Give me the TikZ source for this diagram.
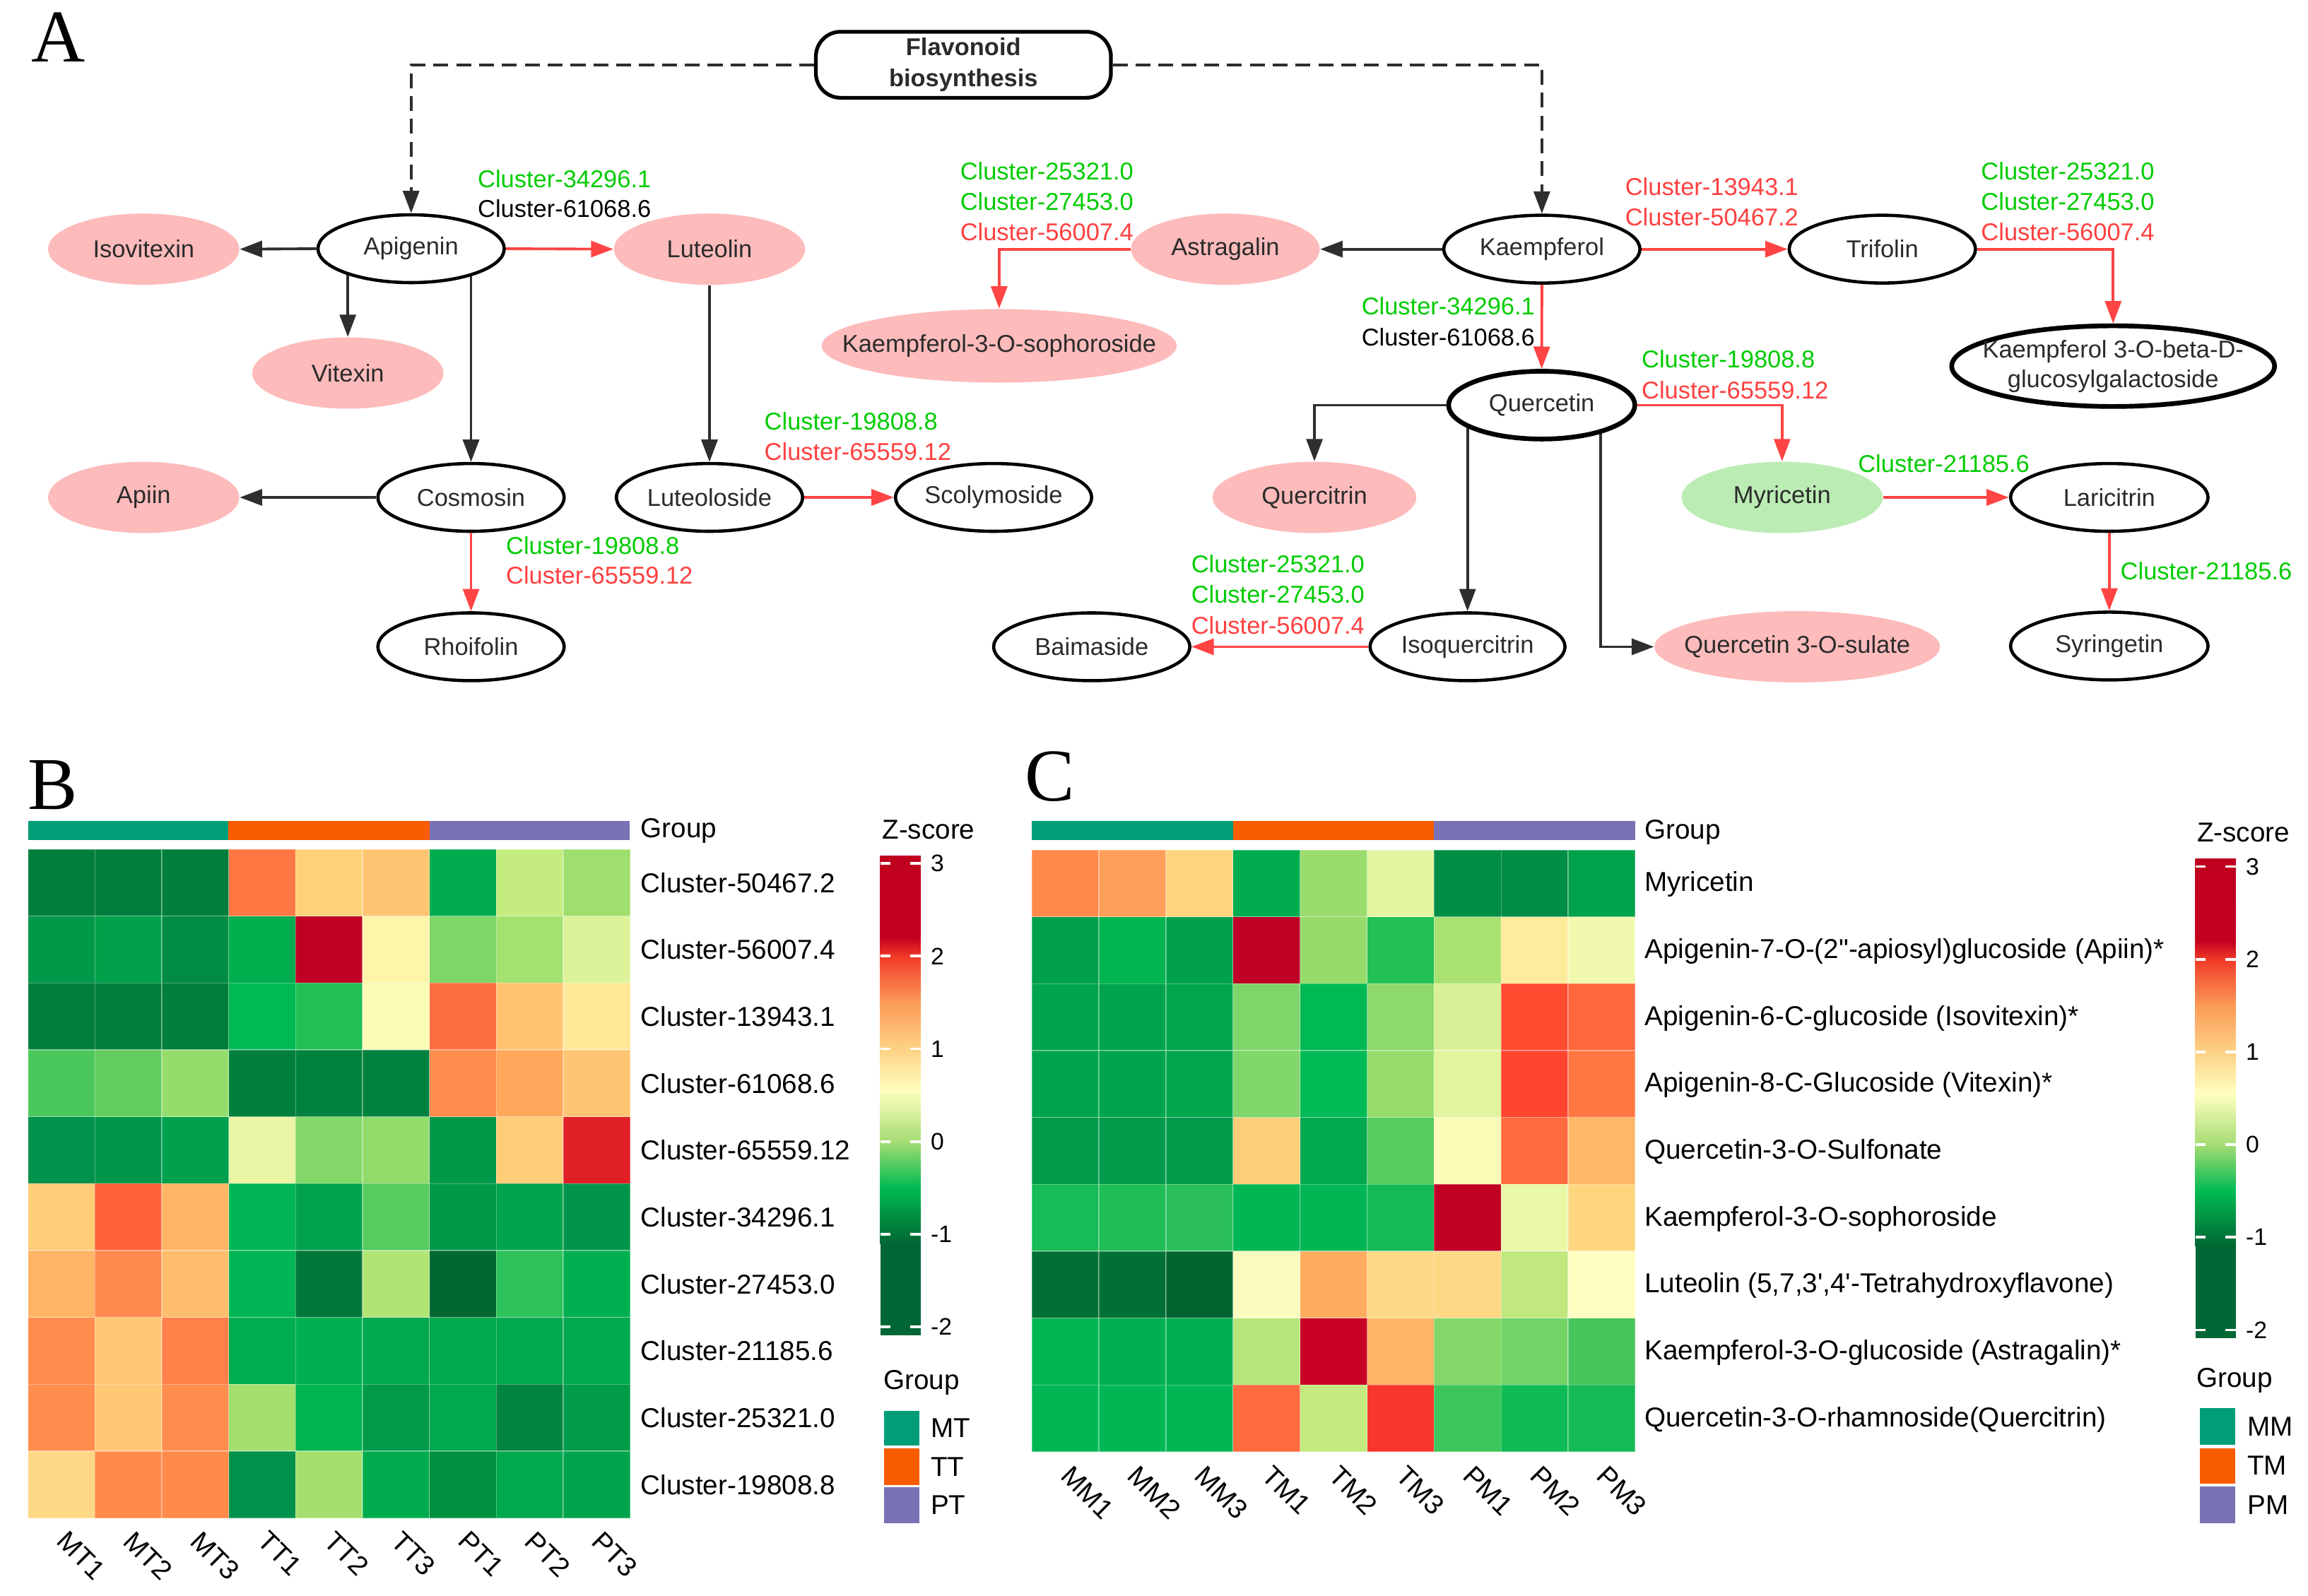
\documentclass[tikz,border=0pt]{standalone}
\usepackage{fontspec}
\setmainfont{Liberation Sans}
\newfontfamily\panelfont{Liberation Serif}
\usetikzlibrary{shapes.geometric,arrows.meta,calc}
\pgfdeclarelayer{bg}
\pgfdeclarelayer{paper}
\pgfsetlayers{paper,bg,main}
\definecolor{pinkn}{HTML}{FDBBBB}
\definecolor{greenn}{HTML}{BBECB4}
\definecolor{labg}{HTML}{00CC00}
\definecolor{labr}{HTML}{FF4040}
\definecolor{edgek}{HTML}{2E2E2E}
\definecolor{edger}{HTML}{FF4444}
\definecolor{txt}{HTML}{2B2B2B}
\definecolor{tealc}{HTML}{009E78}
\definecolor{orangec}{HTML}{FA5C00}
\definecolor{purplec}{HTML}{7872B6}
\definecolor{zs0}{HTML}{006633}
\definecolor{zs1}{HTML}{00BA52}
\definecolor{zs2}{HTML}{A5DC73}
\definecolor{zs3}{HTML}{FFFFBF}
\definecolor{zs4}{HTML}{FDD284}
\definecolor{zs5}{HTML}{FC9B58}
\definecolor{zs6}{HTML}{F13A27}
\definecolor{zs7}{HTML}{C3001F}
\definecolor{zs8}{HTML}{C0001F}
\newcommand\hmrow[5]{%
  \foreach \c [count=\i from 0] in {#5}{%
    \edef\tmpdef{\noexpand\definecolor{cellc}{HTML}{\c}}\tmpdef
    \path[fill=cellc, draw=white, draw opacity=0.3, line width=0.4pt] ({#1+\i*#3},#2) rectangle ++(#3,#4);
  }}
\newcommand\zbar[2]{%
  \begin{scope}[shift={(#1,#2)}]
    \fill[zs0] (0,131.67) rectangle (27.5,69.3);
    \shade[bottom color=zs0, top color=zs1] (0,69.5) rectangle (27.5,31.5);
    \shade[bottom color=zs1, top color=zs2] (0,31.7) rectangle (27.5,0);
    \shade[bottom color=zs2, top color=zs3] (0,0.2) rectangle (27.5,-34.65);
    \shade[bottom color=zs3, top color=zs4] (0,-34.45) rectangle (27.5,-63);
    \shade[bottom color=zs4, top color=zs5] (0,-62.8) rectangle (27.5,-94.5);
    \shade[bottom color=zs5, top color=zs6] (0,-94.3) rectangle (27.5,-126);
    \shade[bottom color=zs6, top color=zs7] (0,-125.8) rectangle (27.5,-138.6);
    \shade[bottom color=zs7, top color=zs8] (0,-138.4) rectangle (27.5,-194.04);
    \foreach \v/\yy in {3/-189,2/-126,1/-63,0/0,-1/63,-2/126}{%
      \draw[white, line width=1.1pt] (0,\yy) -- (7,\yy) (20.5,\yy) -- (27.5,\yy);
      \node[tlab] (tk\v) at (34,\yy) {\v};
    }
  \end{scope}}
\begin{document}
\begin{tikzpicture}[x=0.020829cm,y=-0.020829cm,
  nfont/.style={font=\fontsize{9.8}{12}\selectfont},
  wn/.style={ellipse, draw=black, line width=1.3pt, fill=white, inner sep=0pt,
    minimum width=75pt, minimum height=27.3pt, nfont, text=txt},
  wnt/.style={wn, line width=1.9pt},
  pn/.style={ellipse, fill=pinkn, inner sep=0pt, minimum width=77pt,
    minimum height=28.7pt, nfont, text=txt},
  gn/.style={pn, fill=greenn},
  tip/.style={-{Triangle[length=9pt,width=6.5pt]}},
  ka/.style={draw=edgek, line width=1.1pt, tip},
  ra/.style={draw=edger, line width=1.1pt, tip},
  dk/.style={draw=edgek, line width=1.1pt, dash pattern=on 6pt off 3.2pt, tip},
  lab/.style={anchor=west, inner sep=0pt, nfont},
  hlab/.style={anchor=west, inner sep=0pt, font=\fontsize{11}{13}\selectfont},
  tlab/.style={anchor=west, inner sep=0pt, font=\fontsize{9.6}{11}\selectfont},
  clab/.style={anchor=north west, rotate=-45, inner sep=0pt, font=\fontsize{11}{13}\selectfont},
  pnl/.style={anchor=base west, inner sep=0pt, font=\panelfont\fontsize{30}{32}\selectfont}
]
\useasboundingbox (0,0) rectangle (1568,1084.5);
\begin{pgfonlayer}{paper}
  \fill[white] (0,0) rectangle (1568,1084.5);
\end{pgfonlayer}

% ---------------- Panel A ----------------
\node[pnl] (pA) at (21,42) {A};
\node[draw=black, line width=1.5pt, rounded corners=10pt, minimum width=118.8pt,
  minimum height=26.6pt, inner sep=2pt, align=center, fill=white, text=txt,
  font=\bfseries\fontsize{9.8}{12.4}\selectfont] (flav) at (654.5,44) {Flavonoid\\biosynthesis};

\node[wn] (apigenin) at (279.3,169) {Apigenin};
\node[pn] (isovitexin) at (97.6,169.3) {Isovitexin};
\node[pn] (luteolin) at (482,169.3) {Luteolin};
\node[pn] (vitexin) at (236.3,253.5) {Vitexin};
\node[wn] (cosmosin) at (320,338) {Cosmosin};
\node[pn] (apiin) at (97.6,338) {Apiin};
\node[wn] (luteoloside) at (482,338) {Luteoloside};
\node[wn, minimum width=79pt] (scolymoside) at (675,338) {Scolymoside};
\node[wn] (rhoifolin) at (320,439.5) {Rhoifolin};
\node[pn, minimum width=143pt, minimum height=29.6pt, inner xsep=-16pt] (sophoroside) at (678.8,235) {Kaempferol-3-O-sophoroside};
\node[pn, minimum width=76pt] (astragalin) at (832.5,169.3) {Astragalin};
\node[wn, minimum width=79pt] (kaempferol) at (1047.5,169.3) {Kaempferol};
\node[wn] (trifolin) at (1278.8,169.3) {Trifolin};
\node[wnt, minimum width=130pt, minimum height=32.5pt, inner xsep=-14pt, inner ysep=-2pt, align=center,
  font=\fontsize{9.8}{11.9}\selectfont] (gluco) at (1435.6,248.8) {Kaempferol 3-O-beta-D-\\glucosylgalactoside};
\node[wnt] (quercetin) at (1047.4,275.3) {Quercetin};
\node[pn, minimum width=82pt] (quercitrin) at (893,338) {Quercitrin};
\node[gn, minimum width=81pt] (myricetin) at (1210.7,338) {Myricetin};
\node[wn, minimum width=79.5pt] (laricitrin) at (1433,338) {Laricitrin};
\node[wn, minimum width=79.5pt] (syringetin) at (1433,439) {Syringetin};
\node[wn, minimum width=78.5pt] (isoquercitrin) at (997,439.5) {Isoquercitrin};
\node[wn, minimum width=79pt] (baimaside) at (741.7,439.5) {Baimaside};
\node[pn, minimum width=115pt, inner xsep=-10pt] (sulate) at (1221,439.5) {Quercetin 3-O-sulate};

\begin{pgfonlayer}{bg}
  \draw[ka] (vitexin.north |- apigenin.center) -- (vitexin.north);
  \draw[ka] (cosmosin.north |- apigenin.center) -- (cosmosin.north);
  \draw[ka] (isoquercitrin.north |- quercetin.center) -- (isoquercitrin.north);
  \draw[ka] ($(quercetin.center)+(40,0)$) |- (sulate.west);
\end{pgfonlayer}

\draw[dk] (flav.west) -| (apigenin.north);
\draw[dk] (flav.east) -| (kaempferol.north);
\draw[ka] (apigenin.west) -- (isovitexin.east);
\draw[ra] (apigenin.east) -- (luteolin.west);
\draw[ka] (luteolin.south) -- (luteoloside.north);
\draw[ka] (cosmosin.west) -- (apiin.east);
\draw[ra] (cosmosin.south) -- (rhoifolin.north);
\draw[ra] (luteoloside.east) -- (scolymoside.west);
\draw[ra] (astragalin.west) -| (sophoroside.north);
\draw[ka] (kaempferol.west) -- (astragalin.east);
\draw[ra] (kaempferol.east) -- (trifolin.west);
\draw[ra] (trifolin.east) -| (gluco.north);
\draw[ra] (kaempferol.south) -- (quercetin.north);
\draw[ka] (quercetin.west) -| (quercitrin.north);
\draw[ra] (quercetin.east) -| (myricetin.north);
\draw[ra] (myricetin.east) -- (laricitrin.west);
\draw[ra] (laricitrin.south) -- (syringetin.north);
\draw[ra] (isoquercitrin.west) -- (baimaside.east);

% edge labels
\node[lab, labg] (l1a) at (324.3,121.6) {Cluster-34296.1};
\node[lab, black] (l1b) at (324.3,141.8) {Cluster-61068.6};
\node[lab, labg] (l2a) at (652,116.3) {Cluster-25321.0};
\node[lab, labg] (l2b) at (652,137) {Cluster-27453.0};
\node[lab, labr] (l2c) at (652,157.7) {Cluster-56007.4};
\node[lab, labg] (l3a) at (519,286.3) {Cluster-19808.8};
\node[lab, labr] (l3b) at (519,307) {Cluster-65559.12};
\node[lab, labg] (l4a) at (343.5,370.5) {Cluster-19808.8};
\node[lab, labr] (l4b) at (343.5,391) {Cluster-65559.12};
\node[lab, labr] (l5a) at (1103.8,127) {Cluster-13943.1};
\node[lab, labr] (l5b) at (1103.8,147.6) {Cluster-50467.2};
\node[lab, labg] (l6a) at (1345.6,116.3) {Cluster-25321.0};
\node[lab, labg] (l6b) at (1345.6,137) {Cluster-27453.0};
\node[lab, labr] (l6c) at (1345.6,157.7) {Cluster-56007.4};
\node[lab, labg] (l7a) at (924.7,208.2) {Cluster-34296.1};
\node[lab, black] (l7b) at (924.7,229) {Cluster-61068.6};
\node[lab, labg] (l8a) at (1115,244) {Cluster-19808.8};
\node[lab, labr] (l8b) at (1115,264.9) {Cluster-65559.12};
\node[lab, labg] (l9a) at (1262,314.8) {Cluster-21185.6};
\node[lab, labg] (l10a) at (1440.3,388) {Cluster-21185.6};
\node[lab, labg] (l11a) at (809,383.4) {Cluster-25321.0};
\node[lab, labg] (l11b) at (809,404) {Cluster-27453.0};
\node[lab, labr] (l11c) at (809,425) {Cluster-56007.4};

% ---------------- Panel B ----------------
\node[pnl] (pB) at (18.5,550) {B};
\fill[tealc] (19,557.7) rectangle (155.3,570.7);
\fill[orangec] (155.3,557.7) rectangle (291.7,570.7);
\fill[purplec] (291.7,557.7) rectangle (428,570.7);
\node[hlab] (bgrp) at (435,564.8) {Group};
\hmrow{19}{577}{45.45}{45.45}{007F3C,007F3C,007F3C,FF7843,FFD27A,FFC572,00AC4E,C5EC7E,9EDF6E}
\hmrow{19}{622.45}{45.45}{45.45}{00994A,00A14A,008C42,00AE4E,C00025,FFF5AA,7ED666,A4E270,DCF39A}
\hmrow{19}{667.9}{45.45}{45.45}{007F3C,007F3C,007F3C,00B954,22BF55,FAFCB4,FF6E40,FFC370,FFE898}
\hmrow{19}{713.35}{45.45}{45.45}{4BC85C,63CD60,94DD6C,007F3C,00823E,00823E,FF8D4E,FFA75A,FFC472}
\hmrow{19}{758.8}{45.45}{45.45}{00914A,00964A,00A04C,EAF6A6,84D86A,92DC6C,00994A,FFCC78,E01F26}
\hmrow{19}{804.25}{45.45}{45.45}{FFCC78,FF6038,FFB466,00B654,00A24C,55CC5F,00994A,00A44C,00944A}
\hmrow{19}{849.7}{45.45}{45.45}{FFB466,FF8A4E,FFBD6E,00B654,00783A,B0E576,006830,2EC25A,00B050}
\hmrow{19}{895.15}{45.45}{45.45}{FF8D4E,FFC874,FF8048,00AE50,00B050,00A84E,00AA4E,00A84E,00A84E}
\hmrow{19}{940.6}{45.45}{45.45}{FF8D4E,FFC874,FF8D4E,A3E06E,00B450,009A4A,00A84E,00843E,009C4A}
\hmrow{19}{986.05}{45.45}{45.45}{FFD886,FF8A4A,FF8A4A,00924A,A3E06E,00AC4E,00903F,00A84E,00A44C}
\foreach \t [count=\i from 0] in {Cluster-50467.2,Cluster-56007.4,Cluster-13943.1,Cluster-61068.6,Cluster-65559.12,Cluster-34296.1,Cluster-27453.0,Cluster-21185.6,Cluster-25321.0,Cluster-19808.8}
  \node[hlab] (brow\i) at (435,{577+(\i+0.5)*45.45}) {\t};
\foreach \t [count=\i from 0] in {MT1,MT2,MT3,TT1,TT2,TT3,PT1,PT2,PT3}
  \node[clab] (bcol\i) at ({19+(\i+0.5)*45.45+5},1039) {\t};
\node[hlab] (bzs) at (599,563.7) {Z-score};
\zbar{598}{775.7}
\node[hlab] (bgl) at (600,939.6) {Group};
\fill[tealc] (600.5,958.8) rectangle (624.6,982.3);
\fill[orangec] (600.5,984.4) rectangle (624.6,1009);
\fill[purplec] (600.5,1010.6) rectangle (624.6,1035);
\node[hlab] (bmt) at (632,970.5) {MT};
\node[hlab] (btt) at (632,996.7) {TT};
\node[hlab] (bpt) at (632,1022.8) {PT};

% ---------------- Panel C ----------------
\node[pnl] (pC) at (696,544) {C};
\fill[tealc] (701,557.7) rectangle (837.7,570.7);
\fill[orangec] (837.7,557.7) rectangle (974.3,570.7);
\fill[purplec] (974.3,557.7) rectangle (1111,570.7);
\node[hlab] (cgrp) at (1117,565.5) {Group};
\hmrow{701}{577.5}{45.55}{45.45}{FF8A4A,FFA05A,FFD47E,00AC4E,9ADD6E,E4F6A2,008D45,008D45,00A24C}
\hmrow{701}{622.95}{45.55}{45.45}{00A04C,00B450,00A04C,C00025,96DC6C,22C055,AAE272,FFEB9C,F2F8AE}
\hmrow{701}{668.4}{45.55}{45.45}{00A44C,00A44C,00A64C,7ED66A,00B954,8DD96C,D8F198,FF4C30,FF683C}
\hmrow{701}{713.85}{45.55}{45.45}{00A44C,00A44C,00A64C,80D66A,00BB55,96DD6E,E2F4A0,FF4430,FF7842}
\hmrow{701}{759.3}{45.55}{45.45}{009A4A,009A4A,009A4A,FFCE7A,00A84E,55CC5F,FAFCB8,FF6A3E,FFB868}
\hmrow{701}{804.75}{45.55}{45.45}{16BC55,20BE56,2CC05A,00B754,00B754,14BB55,C00025,EBF8A8,FFD680}
\hmrow{701}{850.2}{45.55}{45.45}{007035,007035,006330,FBFCC0,FFAC60,FFD886,FFD886,C0E87E,FEFEC0}
\hmrow{701}{895.65}{45.55}{45.45}{00B754,00B050,00B050,B6E67A,C80025,FFB466,84D86A,75D468,48C55A}
\hmrow{701}{941.1}{45.55}{45.45}{00B754,00B754,00B754,FF6A3E,C3EA7E,F8362C,3CC55A,10BA55,14BA55}
\node[hlab] (crow0) at (1117,601) {Myricetin};
\node[hlab] (crow1) at (1117,646.5) {Apigenin-7-O-(2\textquotedbl-apiosyl)glucoside (Apiin)*};
\node[hlab] (crow2) at (1117,691.9) {Apigenin-6-C-glucoside (Isovitexin)*};
\node[hlab] (crow3) at (1117,737.4) {Apigenin-8-C-Glucoside (Vitexin)*};
\node[hlab] (crow4) at (1117,782.8) {Quercetin-3-O-Sulfonate};
\node[hlab] (crow5) at (1117,828.3) {Kaempferol-3-O-sophoroside};
\node[hlab] (crow6) at (1117,873.7) {Luteolin (5,7,3\textquotesingle,4\textquotesingle-Tetrahydroxyflavone)};
\node[hlab] (crow7) at (1117,919.2) {Kaempferol-3-O-glucoside (Astragalin)*};
\node[hlab] (crow8) at (1117,964.6) {Quercetin-3-O-rhamnoside(Quercitrin)};
\foreach \t [count=\i from 0] in {MM1,MM2,MM3,TM1,TM2,TM3,PM1,PM2,PM3}
  \node[clab] (ccol\i) at ({701+(\i+0.5)*45.55+5},994.6) {\t};
\node[hlab] (czs) at (1492.3,565.9) {Z-score};
\zbar{1491.5}{777.8}
\node[hlab] (cgl) at (1492,937.9) {Group};
\fill[tealc] (1494.6,956.6) rectangle (1518.6,981.8);
\fill[orangec] (1494.6,984) rectangle (1518.6,1008);
\fill[purplec] (1494.6,1010) rectangle (1518.6,1035);
\node[hlab] (cmm) at (1526.5,969.2) {MM};
\node[hlab] (ctm) at (1526.5,996) {TM};
\node[hlab] (cpm) at (1526.5,1022.5) {PM};
\end{tikzpicture}
\end{document}
